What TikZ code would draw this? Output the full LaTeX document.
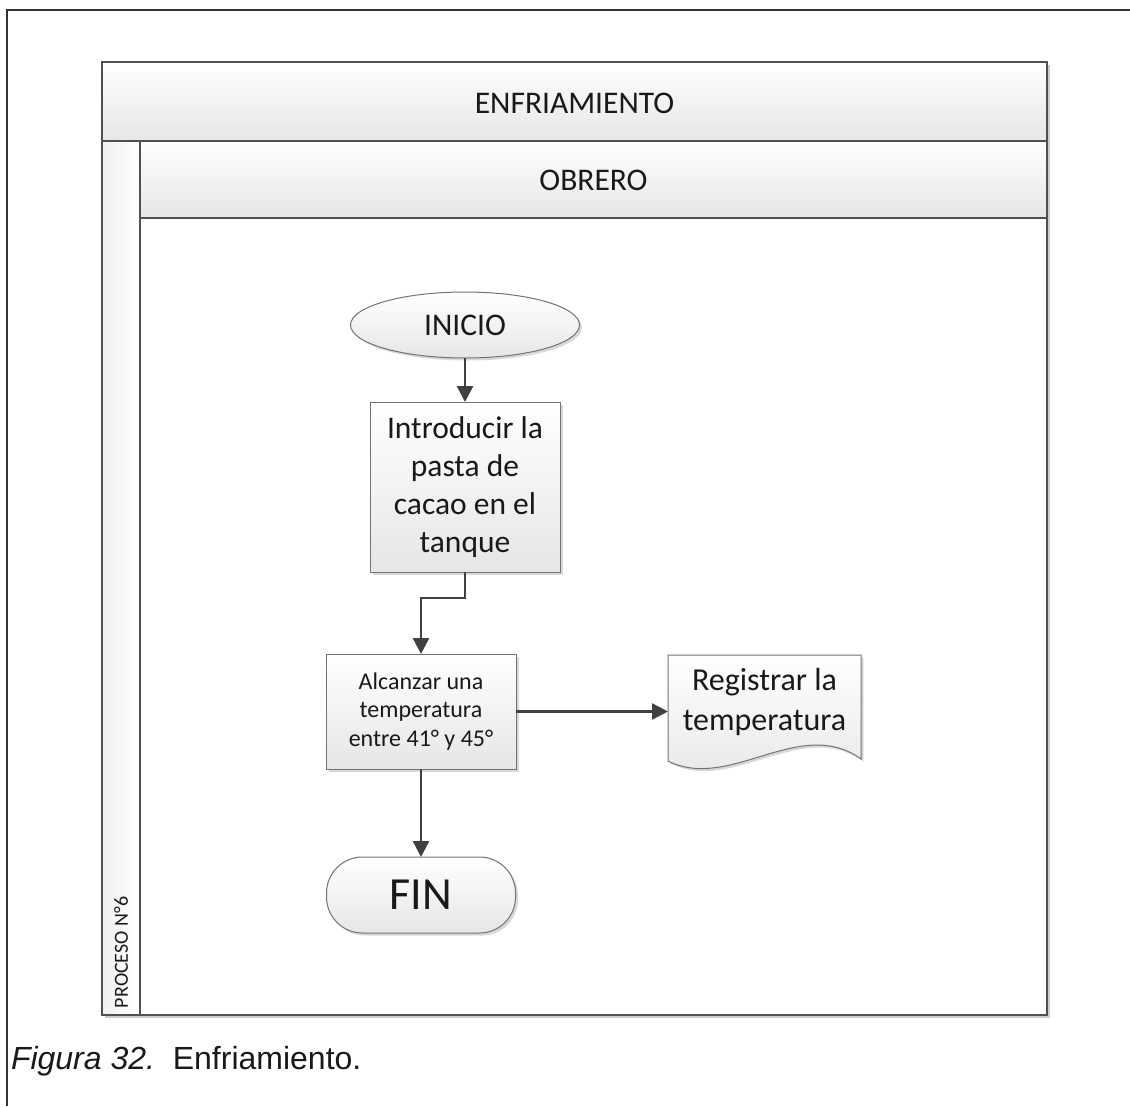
\documentclass[tikz,border=0pt]{standalone}
\usepackage{fontspec}
\setmainfont{Carlito}
\newfontfamily\capfont{Liberation Sans}
\usetikzlibrary{shapes.geometric,arrows.meta,shadows}
\definecolor{lineg}{HTML}{505050}
\definecolor{arrg}{HTML}{404040}
\definecolor{fillg}{HTML}{E6E6E6}
\begin{document}
\begin{tikzpicture}[x=1pt,y=-1pt,
  every node/.style={inner sep=0pt, outer sep=0pt, font=\fontsize{31.5}{38}\selectfont, text=black!90},
  band/.style={draw=lineg, line width=1.8pt, rectangle, top color=white, bottom color=fillg},
  shd/.style={drop shadow={shadow xshift=2.5pt, shadow yshift=-2.5pt, fill=black!25, opacity=0.6}},
  procbox/.style={draw=lineg!80, line width=1pt, rectangle, top color=white, bottom color=fillg, align=center, shd},
  arr/.style={draw=arrg, line width=2.4pt, -{Triangle[length=16pt,width=16pt]}},
]
\useasboundingbox (0,0) rectangle (1130,1106);
% outer frame
\draw[line width=2pt, draw=black!80] (7,1106) -- (7,10) -- (1130,10);
% pool
\fill[black!20] (105,65) rectangle (1050,1018);
\node[band, minimum width=945pt, minimum height=79pt, anchor=north west] (pool) at (102,62) {};
\node (poolt) at (574.5,103) {ENFRIAMIENTO};
\node[draw=lineg, line width=1.8pt, fill=white, minimum width=907pt, minimum height=797pt, anchor=north west] (body) at (140,218) {};
\node[band, minimum width=907pt, minimum height=77pt, anchor=north west] (lane) at (140,141) {};
\node (lanet) at (593.5,180) {OBRERO};
\node[draw=lineg, line width=1.8pt, left color=fillg!60, right color=white, minimum width=38pt, minimum height=874pt, anchor=north west] (strip) at (102,141) {};
\node[rotate=90, anchor=west, font=\fontsize{20}{24}\selectfont] (proc) at (121,1008) {PROCESO N°6};
% flow
\node[ellipse, draw=lineg!80, line width=1pt, top color=white, bottom color=fillg, minimum width=229pt, minimum height=66pt, shd] (ini) at (465,325) {INICIO};
\node[procbox, minimum width=190pt, minimum height=170pt] (b1) at (465,487) {Introducir la\\pasta de\\cacao en el\\tanque};
\node[procbox, minimum width=190pt, minimum height=115pt, font=\fontsize{24}{28.5}\selectfont] (b2) at (421,711.5) {Alcanzar una\\temperatura\\entre 41° y 45°};
\node[draw=lineg!80, line width=1pt, rounded corners=36pt, top color=white, bottom color=fillg, minimum width=189pt, minimum height=76pt, font=\fontsize{46}{52}\selectfont, shd] (fin) at (421,895) {FIN};
% document shape
\node[minimum width=193pt, minimum height=102pt, align=center, anchor=north west] (reg) at (668,655) {};
\path[draw=lineg!80, line width=1pt, top color=white, bottom color=fillg, shd]
  (reg.north west) -- (reg.north east) -- ([yshift=-2pt]reg.south east)
  .. controls (800,715) and (730,792) .. ([yshift=-4pt]reg.south west) -- cycle;
\node[align=center, font=\fontsize{32}{40}\selectfont] (regt) at (764.5,702) {Registrar la\\temperatura};
% connectors
\draw[arr] (ini.south) -- (b1.north);
\draw[arr] (b1.south) -- ++(0,26) -| (b2.north);
\draw[arr] (b2.east) -- (b2.east -| reg.west);
\draw[arr] (b2.south) -- (fin.north);
% caption
\node[anchor=base west, font=\capfont\fontsize{32}{36}\selectfont] (cap) at (11,1069) {\textit{Figura 32.}\ \ Enfriamiento.};
\end{tikzpicture}
\end{document}
